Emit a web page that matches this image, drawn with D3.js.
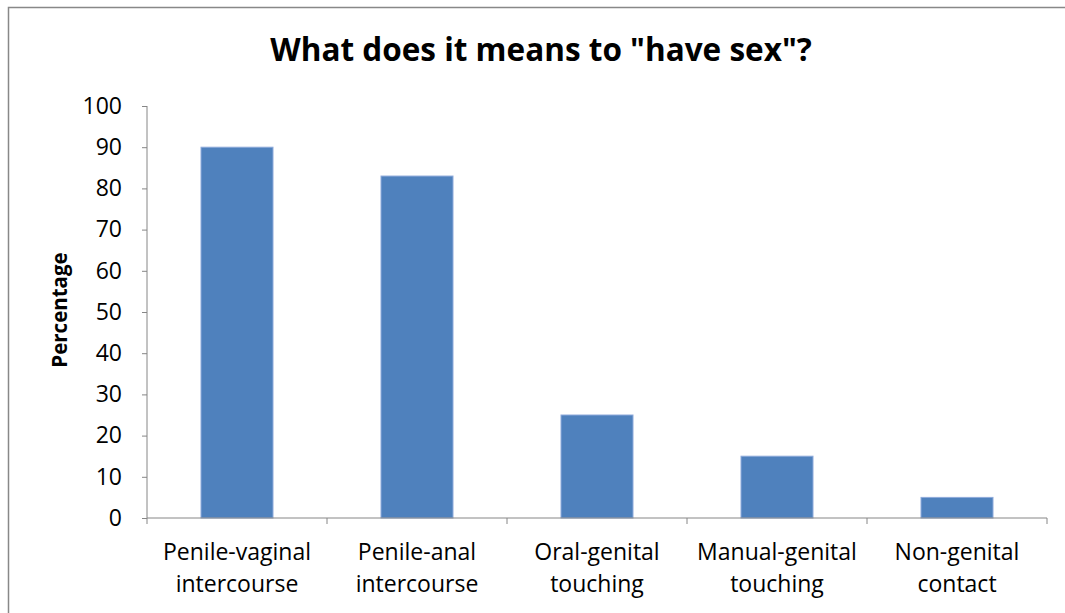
<!DOCTYPE html>
<html>
<head>
<meta charset="utf-8">
<script src="https://cdn.jsdelivr.net/npm/d3@7"></script>
<style>
  body { margin: 0; background: #fff; }
  text { font-family: "Open Sans", "Liberation Sans", sans-serif; fill: #000; }
</style>
</head>
<body>
<div id="chart"></div>
<script>
// chart data
const categories = [
  ["Penile-vaginal", "intercourse"],
  ["Penile-anal", "intercourse"],
  ["Oral-genital", "touching"],
  ["Manual-genital", "touching"],
  ["Non-genital", "contact"]
];
const values = [90, 83, 25, 15, 5];
const yTicks = [0, 10, 20, 30, 40, 50, 60, 70, 80, 90, 100];

const svgWidth = 1065, svgHeight = 613;
const margin = { top: 106, right: 18, bottom: 95, left: 147 };

const svg = d3.select("#chart").append("svg")
  .attr("width", svgWidth)
  .attr("height", svgHeight);

// outer frame
svg.append("rect")
  .attr("x", 8.5).attr("y", 7.5)
  .attr("width", 1080).attr("height", 640)
  .attr("fill", "none")
  .attr("stroke", "#888")
  .attr("stroke-width", 1.5);

const g = svg.append("g")
  .attr("transform", `translate(${margin.left},${margin.top})`);

const x = d3.scaleBand()
  .domain(d3.range(categories.length))
  .range([0, 900])
  .paddingInner(0.6)
  .paddingOuter(0.3);

const y = d3.scaleLinear().domain([0, 100]).range([412, 0]);

// bars
g.selectAll("rect.bar")
  .data(values)
  .enter().append("rect")
  .attr("class", "bar")
  .attr("x", (d, i) => x(i))
  .attr("y", d => y(d))
  .attr("width", x.bandwidth())
  .attr("height", d => y(0) - y(d))
  .attr("fill", "#4F81BD")
  .attr("stroke", "#8EAADB")
  .attr("stroke-width", 1);

// y axis
const yAxis = g.append("g")
  .call(d3.axisLeft(y).tickValues(yTicks).tickSize(5).tickPadding(20));
yAxis.selectAll("text").style("font-size", "23px");
yAxis.selectAll("line, path").attr("stroke", "#868686");
yAxis.select(".domain").attr("d", "M0,0V412");

// x axis with boundary ticks
const xAxisG = g.append("g").attr("transform", `translate(0,${y(0)})`);
xAxisG.append("line")
  .attr("x1", 0).attr("x2", 900)
  .attr("stroke", "#868686");
xAxisG.selectAll("line.tick")
  .data(d3.range(categories.length + 1))
  .enter().append("line")
  .attr("class", "tick")
  .attr("x1", i => i * x.step()).attr("x2", i => i * x.step())
  .attr("y1", 0).attr("y2", 6)
  .attr("stroke", "#868686");

const labels = xAxisG.selectAll("text.cat")
  .data(categories)
  .enter().append("text")
  .attr("class", "cat")
  .attr("text-anchor", "middle")
  .attr("x", (d, i) => x(i) + x.bandwidth() / 2)
  .style("font-size", "23px");
labels.append("tspan").attr("x", (d, i) => x(i) + x.bandwidth() / 2).attr("y", 42).text(d => d[0]);
labels.append("tspan").attr("x", (d, i) => x(i) + x.bandwidth() / 2).attr("y", 74).text(d => d[1]);

// title
svg.append("text")
  .attr("x", 541).attr("y", 61)
  .attr("text-anchor", "middle")
  .style("font-size", "31.5px")
  .style("font-weight", "bold")
  .text('What does it means to "have sex"?');

// y label
svg.append("text")
  .attr("transform", "translate(67,310) rotate(-90)")
  .attr("text-anchor", "middle")
  .style("font-size", "20.5px")
  .style("font-weight", "bold")
  .text("Percentage");
</script>
</body>
</html>
